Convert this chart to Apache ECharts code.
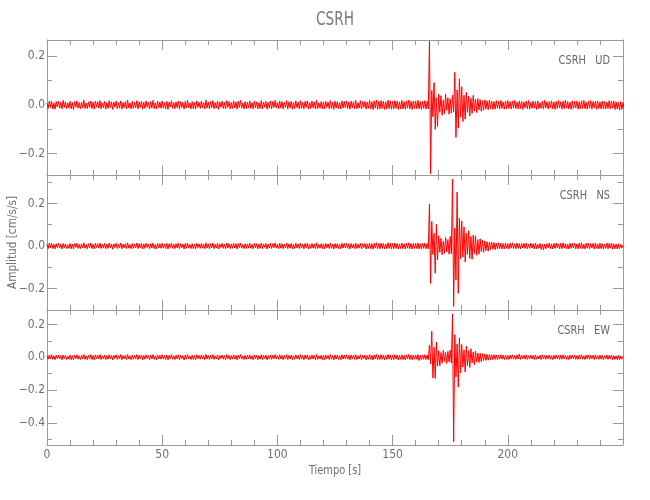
<!DOCTYPE html>
<html><head><meta charset="utf-8">
<script src="https://cdn.jsdelivr.net/npm/echarts@6/dist/echarts.min.js"></script>
<style>html,body{margin:0;padding:0;background:#fff}#c{width:650px;height:500px}</style>
</head><body><div id="c"></div><script>
// ---- data ----
const SAMPLE_INTERVAL = 0.5; // seconds between samples
const stationName = 'CSRH';
const componentNames = ['UD', 'NS', 'EW'];
const xTickLabels = [0, 50, 100, 150, 200];
const yExtentUD = [-0.2875, 0.267];
const yExtentNS = [-0.301, 0.334];
const yExtentEW = [-0.535, 0.288];

const ud = [
0.008,-0.014,0.016,-0.010,0.015,-0.016,0.009,-0.017,0.014,-0.008,0.016,-0.013,0.011,-0.016,0.019,-0.010,0.013,-0.015,0.009,-0.012,
0.015,-0.016,0.010,-0.018,0.014,-0.009,0.017,-0.013,0.010,-0.016,0.012,-0.011,0.020,-0.014,0.008,-0.015,0.013,-0.010,0.017,-0.015,
0.012,-0.017,0.016,-0.009,0.014,-0.013,0.018,-0.016,0.009,-0.012,0.015,-0.017,0.010,-0.014,0.018,-0.010,0.013,-0.018,0.012,-0.009,
0.016,-0.015,0.010,-0.013,0.017,-0.017,0.011,-0.011,0.014,-0.016,0.020,-0.012,0.009,-0.016,0.015,-0.014,0.011,-0.012,0.018,-0.016,
0.013,-0.010,0.015,-0.017,0.012,-0.014,0.017,-0.009,0.011,-0.016,0.014,-0.013,0.019,-0.015,0.009,-0.016,0.016,-0.011,0.013,-0.014,
0.017,-0.012,0.010,-0.016,0.015,-0.018,0.012,-0.008,0.018,-0.014,0.010,-0.015,0.013,-0.011,0.016,-0.017,0.014,-0.010,0.011,-0.017,
0.015,-0.013,0.019,-0.011,0.009,-0.016,0.014,-0.015,0.011,-0.017,0.017,-0.010,0.012,-0.014,0.016,-0.012,0.010,-0.016,0.020,-0.013,
0.012,-0.016,0.014,-0.011,0.018,-0.015,0.010,-0.013,0.016,-0.018,0.013,-0.009,0.015,-0.014,0.011,-0.016,0.018,-0.010,0.014,-0.016,
0.010,-0.014,0.017,-0.012,0.013,-0.017,0.015,-0.010,0.019,-0.013,0.009,-0.016,0.014,-0.015,0.012,-0.011,0.017,-0.014,0.010,-0.016,
0.016,-0.011,0.013,-0.016,0.010,-0.014,0.018,-0.016,0.012,-0.009,0.015,-0.017,0.011,-0.013,0.017,-0.015,0.014,-0.010,0.019,-0.012,
0.010,-0.015,0.016,-0.013,0.014,-0.016,0.011,-0.010,0.018,-0.016,0.013,-0.012,0.015,-0.018,0.010,-0.014,0.017,-0.011,0.012,-0.016,
0.018,-0.013,0.011,-0.016,0.015,-0.010,0.017,-0.017,0.010,-0.014,0.016,-0.012,0.013,-0.016,0.019,-0.015,0.009,-0.013,0.014,-0.016,
0.013,-0.016,0.015,-0.010,0.012,-0.016,0.018,-0.014,0.011,-0.018,0.016,-0.012,0.014,-0.015,0.010,-0.016,0.017,-0.013,0.015,-0.011,
0.017,-0.014,0.012,-0.017,0.016,-0.011,0.013,-0.015,0.019,-0.016,0.010,-0.013,0.018,-0.016,0.014,-0.010,0.015,-0.017,0.012,-0.014,
0.019,-0.016,0.014,-0.019,0.017,-0.013,0.020,-0.017,0.015,-0.016,0.018,-0.014,0.016,-0.018,0.013,-0.016,0.020,-0.015,0.017,-0.017,
0.015,-0.016,0.018,-0.014,0.016,-0.018,0.013,-0.015,0.019,-0.016,0.014,-0.017,0.017,-0.013,0.020,-0.016,0.015,-0.018,0.016,-0.014,
0.017,-0.015,0.019,-0.016,0.014,-0.018,0.016,-0.014,0.018,-0.017,0.015,-0.016,0.262,-0.282,0.060,-0.048,0.092,-0.100,0.030,-0.088,0.045,-0.030,
0.038,-0.042,0.020,-0.035,0.044,-0.022,0.030,-0.038,0.025,-0.033,0.041,-0.028,0.134,-0.133,0.062,-0.095,0.108,-0.050,0.075,-0.068,
0.040,-0.058,0.052,-0.030,0.036,-0.045,0.028,-0.034,0.040,-0.025,0.024,-0.031,0.027,-0.020,0.022,-0.026,0.018,-0.022,0.021,-0.017,
0.017,-0.019,0.020,-0.015,0.016,-0.018,0.014,-0.017,0.018,-0.013,0.015,-0.016,0.019,-0.014,0.013,-0.017,0.016,-0.015,0.018,-0.014,
0.014,-0.017,0.016,-0.013,0.019,-0.015,0.012,-0.016,0.017,-0.014,0.015,-0.018,0.013,-0.012,0.016,-0.015,0.018,-0.017,0.011,-0.014,
0.016,-0.013,0.014,-0.018,0.017,-0.015,0.010,-0.014,0.015,-0.017,0.019,-0.012,0.013,-0.016,0.014,-0.011,0.017,-0.015,0.012,-0.018,
0.015,-0.014,0.018,-0.012,0.013,-0.017,0.016,-0.015,0.020,-0.013,0.014,-0.016,0.012,-0.018,0.017,-0.014,0.015,-0.012,0.016,-0.017,
0.013,-0.016,0.017,-0.014,0.019,-0.015,0.012,-0.017,0.016,-0.013,0.018,-0.016,0.014,-0.012,0.015,-0.018,0.017,-0.014,0.013,-0.016,
0.016,-0.015,0.014,-0.017,0.012,-0.014,0.018,-0.016,0.015,-0.013,0.017,-0.019,0.013,-0.016,0.011,-0.021,0.014,-0.018,0.010,-0.015,
0.006];

const ns = [
0.007,-0.012,0.013,-0.009,0.014,-0.012,0.008,-0.013,0.011,-0.007,0.013,-0.010,0.009,-0.014,0.012,-0.008,0.010,-0.012,0.006,-0.011,
0.012,-0.013,0.009,-0.014,0.011,-0.007,0.013,-0.011,0.008,-0.012,0.010,-0.009,0.015,-0.011,0.007,-0.013,0.011,-0.008,0.014,-0.012,
0.009,-0.014,0.012,-0.007,0.011,-0.010,0.014,-0.012,0.008,-0.010,0.012,-0.013,0.009,-0.011,0.014,-0.008,0.010,-0.015,0.010,-0.007,
0.013,-0.012,0.008,-0.010,0.014,-0.013,0.009,-0.009,0.011,-0.012,0.015,-0.010,0.007,-0.013,0.012,-0.011,0.009,-0.009,0.014,-0.012,
0.011,-0.008,0.012,-0.014,0.010,-0.011,0.013,-0.007,0.009,-0.013,0.011,-0.010,0.014,-0.012,0.007,-0.013,0.012,-0.009,0.011,-0.011,
0.013,-0.010,0.009,-0.012,0.012,-0.014,0.010,-0.007,0.014,-0.011,0.008,-0.012,0.011,-0.009,0.013,-0.013,0.011,-0.008,0.009,-0.014,
0.012,-0.011,0.014,-0.009,0.007,-0.012,0.011,-0.012,0.009,-0.014,0.013,-0.008,0.010,-0.011,0.012,-0.010,0.009,-0.013,0.015,-0.010,
0.010,-0.013,0.011,-0.009,0.014,-0.012,0.008,-0.010,0.013,-0.014,0.010,-0.007,0.012,-0.011,0.009,-0.013,0.014,-0.009,0.011,-0.012,
0.009,-0.011,0.013,-0.010,0.011,-0.014,0.012,-0.008,0.014,-0.010,0.007,-0.012,0.011,-0.012,0.010,-0.009,0.013,-0.011,0.008,-0.013,
0.012,-0.009,0.011,-0.013,0.009,-0.011,0.014,-0.012,0.010,-0.007,0.012,-0.014,0.009,-0.010,0.013,-0.012,0.011,-0.008,0.015,-0.010,
0.008,-0.012,0.013,-0.010,0.011,-0.013,0.009,-0.009,0.014,-0.012,0.010,-0.010,0.012,-0.014,0.008,-0.011,0.013,-0.009,0.010,-0.012,
0.014,-0.010,0.009,-0.013,0.012,-0.008,0.013,-0.014,0.008,-0.011,0.012,-0.010,0.010,-0.013,0.015,-0.012,0.007,-0.010,0.011,-0.013,
0.010,-0.013,0.012,-0.008,0.010,-0.012,0.014,-0.011,0.009,-0.014,0.012,-0.010,0.011,-0.012,0.008,-0.013,0.013,-0.010,0.012,-0.009,
0.013,-0.011,0.010,-0.014,0.012,-0.009,0.010,-0.012,0.014,-0.012,0.008,-0.010,0.013,-0.013,0.011,-0.008,0.012,-0.014,0.010,-0.011,
0.014,-0.012,0.011,-0.015,0.013,-0.010,0.015,-0.013,0.011,-0.013,0.014,-0.011,0.012,-0.014,0.010,-0.012,0.015,-0.011,0.013,-0.014,
0.012,-0.013,0.014,-0.011,0.012,-0.014,0.010,-0.012,0.014,-0.012,0.011,-0.014,0.013,-0.010,0.015,-0.013,0.012,-0.014,0.012,-0.011,
0.013,-0.012,0.014,-0.013,0.011,-0.014,0.012,-0.011,0.014,-0.013,0.012,-0.013,0.198,-0.176,0.115,-0.040,0.060,-0.128,0.102,-0.066,
0.048,-0.030,0.036,-0.041,0.022,-0.034,0.040,-0.027,0.031,-0.038,0.045,-0.036,0.314,-0.284,0.085,-0.160,0.253,-0.222,0.130,-0.060,
0.118,-0.052,0.090,-0.075,0.060,-0.040,0.072,-0.058,0.045,-0.062,0.052,-0.035,0.048,-0.044,0.030,-0.038,0.034,-0.026,0.028,-0.030,
0.024,-0.022,0.020,-0.024,0.018,-0.016,0.019,-0.015,0.016,-0.017,0.014,-0.013,0.015,-0.012,0.013,-0.014,0.012,-0.013,0.014,-0.011,
0.011,-0.014,0.013,-0.010,0.015,-0.012,0.010,-0.013,0.014,-0.011,0.012,-0.014,0.011,-0.009,0.013,-0.012,0.014,-0.013,0.009,-0.011,
0.013,-0.010,0.011,-0.014,0.014,-0.012,0.008,-0.011,0.012,-0.016,0.008,-0.018,0.009,-0.013,0.011,-0.009,0.014,-0.012,0.010,-0.014,
0.012,-0.011,0.014,-0.009,0.010,-0.013,0.013,-0.012,0.015,-0.010,0.011,-0.013,0.009,-0.014,0.013,-0.011,0.012,-0.009,0.013,-0.013,
0.010,-0.013,0.014,-0.011,0.015,-0.012,0.009,-0.014,0.013,-0.010,0.014,-0.013,0.011,-0.009,0.012,-0.014,0.014,-0.011,0.010,-0.013,
0.013,-0.012,0.011,-0.014,0.009,-0.011,0.014,-0.013,0.012,-0.010,0.014,-0.015,0.010,-0.013,0.009,-0.014,0.011,-0.013,0.008,-0.010,
0.004];

const ew = [
0.008,-0.012,0.014,-0.010,0.016,-0.013,0.009,-0.015,0.012,-0.008,0.014,-0.011,0.010,-0.016,0.013,-0.009,0.011,-0.014,0.007,-0.012,
0.013,-0.015,0.010,-0.016,0.012,-0.008,0.015,-0.012,0.009,-0.014,0.011,-0.010,0.017,-0.013,0.008,-0.015,0.012,-0.009,0.016,-0.014,
0.010,-0.016,0.014,-0.008,0.012,-0.011,0.016,-0.014,0.009,-0.011,0.013,-0.015,0.010,-0.012,0.016,-0.009,0.011,-0.017,0.011,-0.008,
0.015,-0.013,0.009,-0.011,0.016,-0.015,0.010,-0.010,0.012,-0.014,0.017,-0.011,0.008,-0.015,0.013,-0.012,0.010,-0.010,0.016,-0.014,
0.012,-0.009,0.014,-0.016,0.011,-0.012,0.015,-0.008,0.010,-0.015,0.012,-0.011,0.016,-0.013,0.008,-0.015,0.014,-0.010,0.012,-0.012,
0.015,-0.011,0.010,-0.014,0.013,-0.016,0.011,-0.008,0.016,-0.012,0.009,-0.014,0.012,-0.010,0.015,-0.015,0.012,-0.009,0.010,-0.016,
0.013,-0.012,0.016,-0.010,0.008,-0.014,0.012,-0.013,0.010,-0.016,0.015,-0.009,0.011,-0.012,0.014,-0.011,0.010,-0.015,0.017,-0.011,
0.011,-0.014,0.012,-0.010,0.016,-0.013,0.009,-0.011,0.014,-0.016,0.011,-0.008,0.013,-0.012,0.010,-0.015,0.016,-0.010,0.012,-0.014,
0.010,-0.012,0.015,-0.011,0.012,-0.016,0.013,-0.009,0.016,-0.011,0.008,-0.014,0.012,-0.013,0.011,-0.010,0.015,-0.012,0.009,-0.015,
0.014,-0.010,0.012,-0.015,0.010,-0.012,0.016,-0.014,0.011,-0.008,0.013,-0.016,0.010,-0.011,0.015,-0.013,0.012,-0.009,0.017,-0.011,
0.009,-0.013,0.015,-0.011,0.012,-0.015,0.010,-0.010,0.016,-0.014,0.011,-0.011,0.013,-0.016,0.009,-0.012,0.015,-0.010,0.011,-0.014,
0.016,-0.011,0.010,-0.015,0.013,-0.009,0.015,-0.016,0.009,-0.012,0.014,-0.011,0.011,-0.015,0.017,-0.013,0.008,-0.011,0.012,-0.015,
0.011,-0.015,0.013,-0.009,0.011,-0.014,0.016,-0.012,0.010,-0.016,0.014,-0.011,0.012,-0.013,0.009,-0.015,0.015,-0.011,0.013,-0.010,
0.015,-0.012,0.011,-0.016,0.014,-0.010,0.011,-0.013,0.016,-0.014,0.009,-0.011,0.015,-0.015,0.012,-0.009,0.013,-0.016,0.011,-0.012,
0.016,-0.013,0.012,-0.017,0.014,-0.011,0.017,-0.015,0.012,-0.014,0.016,-0.012,0.013,-0.016,0.011,-0.013,0.017,-0.012,0.014,-0.015,
0.013,-0.014,0.016,-0.012,0.014,-0.016,0.011,-0.013,0.016,-0.014,0.012,-0.016,0.015,-0.011,0.017,-0.014,0.013,-0.016,0.014,-0.012,
0.014,-0.013,0.016,-0.020,0.012,-0.015,0.014,-0.013,0.016,-0.014,0.013,-0.015,0.075,-0.040,0.158,-0.126,0.060,-0.130,0.092,-0.055,
0.040,-0.052,0.028,-0.036,0.042,-0.025,0.030,-0.038,0.036,-0.028,0.044,-0.035,0.264,-0.515,0.138,-0.120,0.080,-0.182,0.118,-0.095,
0.078,-0.060,0.045,-0.090,0.068,-0.050,0.040,-0.062,0.052,-0.035,0.032,-0.045,0.038,-0.028,0.026,-0.032,0.024,-0.027,0.022,-0.020,
0.020,-0.019,0.017,-0.018,0.016,-0.015,0.015,-0.014,0.016,-0.013,0.014,-0.015,0.013,-0.012,0.015,-0.011,0.013,-0.014,0.012,-0.013,
0.011,-0.014,0.013,-0.010,0.015,-0.012,0.010,-0.013,0.014,-0.011,0.020,-0.013,0.011,-0.009,0.013,-0.012,0.014,-0.013,0.009,-0.011,
0.013,-0.010,0.011,-0.014,0.014,-0.012,0.008,-0.011,0.012,-0.014,0.015,-0.010,0.011,-0.013,0.012,-0.009,0.014,-0.012,0.010,-0.014,
0.012,-0.011,0.014,-0.009,0.010,-0.013,0.013,-0.012,0.015,-0.010,0.011,-0.013,0.009,-0.014,0.013,-0.011,0.012,-0.009,0.013,-0.013,
0.010,-0.013,0.014,-0.011,0.015,-0.012,0.009,-0.014,0.013,-0.010,0.014,-0.013,0.011,-0.009,0.012,-0.014,0.014,-0.011,0.010,-0.013,
0.013,-0.012,0.011,-0.014,0.009,-0.011,0.014,-0.013,0.012,-0.010,0.014,-0.015,0.010,-0.013,0.009,-0.014,0.011,-0.015,0.008,-0.012,
0.005];

// ---- chart ----
const traces = [ud, ns, ew];
const yExtents = [yExtentUD, yExtentNS, yExtentEW];
const FONT = "'Liberation Sans Narrow','DejaVu Sans Condensed','Liberation Sans',sans-serif";
const AX = '#9a9a9a';
const TXT = '#6e6e6e';
const PLOT_LEFT = 47, PLOT_W = 576, PLOT_TOP = 40, PANEL_H = 135;

const grids = [], xAxes = [], yAxes = [], series = [], graphics = [];
const tickBase = {show: true, inside: true, length: 10, lineStyle: {color: AX, width: 1}};
const minorX = {show: true, splitNumber: 5, length: 5, lineStyle: {color: AX, width: 1}};
const minorY = {show: true, splitNumber: 2, length: 5, lineStyle: {color: AX, width: 1}};
const lineBase = {show: true, onZero: false, lineStyle: {color: AX, width: 1}};
const fmtY = v => (Math.abs(v) < 1e-9 ? '0.0' : v.toFixed(1).replace('-', '\u2212'));

traces.forEach((arr, g) => {
  grids.push({left: PLOT_LEFT, top: PLOT_TOP + PANEL_H * g, width: PLOT_W, height: PANEL_H,
    containLabel: false, outerBoundsMode: 'none'});
  const xCommon = {type: 'value', gridIndex: g, min: 0, max: 250, interval: 50,
    axisLine: lineBase, axisTick: tickBase, minorTick: minorX,
    splitLine: {show: false}, minorSplitLine: {show: false}};
  xAxes.push(Object.assign({}, xCommon, {position: 'bottom',
    axisLabel: {show: g === 2, color: TXT, fontSize: 12, fontFamily: FONT, margin: 4,
      showMaxLabel: false, showMinLabel: true,
      formatter: v => (xTickLabels.indexOf(v) >= 0 ? String(v) : '')}}));
  xAxes.push(Object.assign({}, xCommon, {position: 'top', axisLabel: {show: false}}));
  const [mn, mx] = yExtents[g];
  const yCommon = {type: 'value', gridIndex: g, min: mn, max: mx, splitNumber: 3,
    minInterval: 0.2, maxInterval: 0.2,
    axisLine: lineBase, axisTick: tickBase, minorTick: minorY,
    splitLine: {show: false}, minorSplitLine: {show: false}};
  yAxes.push(Object.assign({}, yCommon, {position: 'left',
    axisLabel: {show: true, color: TXT, fontSize: 12, fontFamily: FONT, margin: 2,
      showMinLabel: false, showMaxLabel: false, formatter: fmtY}}));
  yAxes.push(Object.assign({}, yCommon, {position: 'right', axisLabel: {show: false}}));
  series.push({type: 'line', xAxisIndex: 2 * g, yAxisIndex: 2 * g,
    data: arr.map((v, i) => [i * SAMPLE_INTERVAL, v]),
    symbol: 'none', showSymbol: false, sampling: null, silent: true,
    lineStyle: {color: '#ff0000', width: 1}, z: 1});
  graphics.push({type: 'text', x: 610, y: PLOT_TOP + PANEL_H * g + 21, scaleX: 0.84,
    style: {text: stationName + '   ' + componentNames[g], font: '13px ' + FONT, fill: '#666',
      align: 'right', verticalAlign: 'middle'}});
});

graphics.push({type: 'text', x: PLOT_LEFT + PLOT_W / 2, y: 20, scaleX: 0.8,
  style: {text: stationName, font: '19px ' + FONT, fill: '#7a7a7a', align: 'center', verticalAlign: 'middle'}});
graphics.push({type: 'text', x: PLOT_LEFT + PLOT_W / 2, y: 471, scaleX: 0.84,
  style: {text: 'Tiempo [s]', font: '13px ' + FONT, fill: TXT, align: 'center', verticalAlign: 'middle'}});
graphics.push({type: 'text', x: 13, y: PLOT_TOP + PANEL_H * 1.5, rotation: Math.PI / 2, scaleX: 0.9,
  style: {text: 'Amplitud [cm/s/s]', font: '13px ' + FONT, fill: TXT, align: 'center', verticalAlign: 'middle'}});

const chart = echarts.init(document.getElementById('c'), null, {renderer: 'canvas'});
chart.setOption({
  animation: false,
  backgroundColor: '#fff',
  grid: grids, xAxis: xAxes, yAxis: yAxes, series: series, graphic: graphics
});
</script></body></html>
